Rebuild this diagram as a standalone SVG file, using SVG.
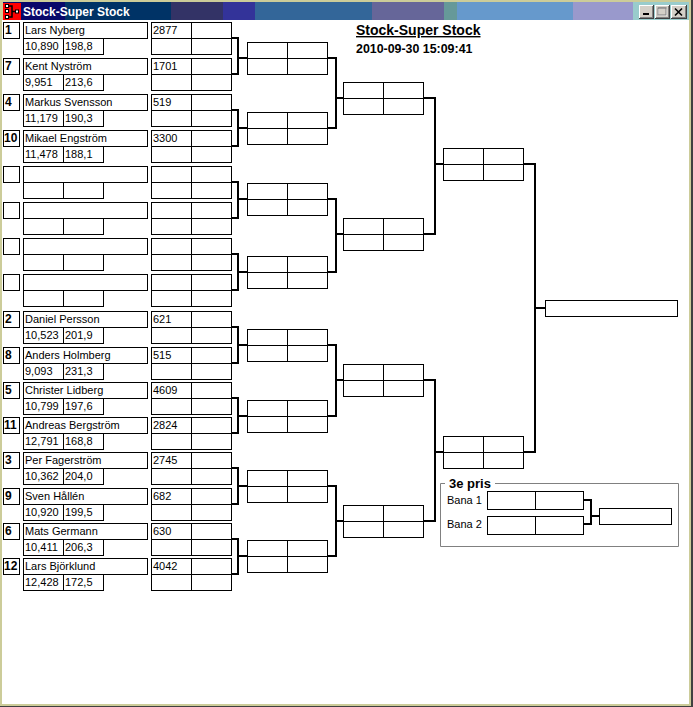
<svg xmlns="http://www.w3.org/2000/svg" xmlns:xlink="http://www.w3.org/1999/xlink" width="693" height="707" viewBox="0 0 693 707">
<style>
.box{fill:#fff;stroke:#000;stroke-width:1}
.ln{fill:none;stroke:#000;stroke-width:1}
.con{fill:none;stroke:#000;stroke-width:2}
.t{font-family:"Liberation Sans",Arial,sans-serif;font-size:11px;fill:#000}
.seed{font-family:"Liberation Sans",Arial,sans-serif;font-size:12px;font-weight:bold;fill:#000}
.title{font-family:"Liberation Sans",Arial,sans-serif;font-size:14px;font-weight:bold;fill:#000;text-decoration:underline}
.date{font-family:"Liberation Sans",Arial,sans-serif;font-size:12.4px;font-weight:bold;fill:#000}
.cap{font-family:"Liberation Sans",Arial,sans-serif;font-size:12px;font-weight:bold;fill:#fff}
.grp{font-family:"Liberation Sans",Arial,sans-serif;font-size:13px;font-weight:bold;fill:#000}
.btn{fill:#d4d0c8}
</style>
<defs>
<g id="seat">
<rect class="box" x="3.5" y="0.5" width="16" height="16"/>
<rect class="box" x="23.5" y="0.5" width="124" height="16"/>
<rect class="box" x="23.5" y="16.5" width="40" height="16"/>
<rect class="box" x="63.5" y="16.5" width="40" height="16"/>
<rect class="box" x="151.5" y="0.5" width="80" height="32"/>
<path class="ln" d="M191.5 0.5V32.5M151.5 16.5H231.5"/>
</g>
<g id="match">
<rect class="box" x="0.5" y="0.5" width="80" height="32"/>
<path class="ln" d="M40.5 0.5V32.5M0.5 16.5H80.5"/>
</g>
<g id="bana">
<rect class="box" x="0.5" y="0.5" width="96" height="18"/>
<path class="ln" d="M48.5 0.5V18.5"/>
</g>
</defs>

<!-- window frame -->
<rect x="0" y="0" width="693" height="707" fill="#404040"/>
<rect x="0" y="0" width="691" height="706" fill="#cccc99"/>
<rect x="2" y="20" width="687" height="684" fill="#fff"/>

<!-- title bar -->
<g id="titlebar">
<rect x="3" y="2" width="62" height="18" fill="#08086a"/>
<rect x="65" y="2" width="106" height="18" fill="#003366"/>
<rect x="171" y="2" width="52" height="18" fill="#333366"/>
<rect x="223" y="2" width="32" height="18" fill="#333399"/>
<rect x="255" y="2" width="117" height="18" fill="#336699"/>
<rect x="372" y="2" width="72" height="18" fill="#666699"/>
<rect x="444" y="2" width="13" height="18" fill="#669999"/>
<rect x="457" y="2" width="116" height="18" fill="#6699cc"/>
<rect x="573" y="2" width="60" height="18" fill="#9999cc"/>
<rect x="633" y="2" width="56" height="18" fill="#99cccc"/>
<rect x="3" y="3" width="18" height="17" fill="#ff0000"/>
<path d="M9 6H12V17H9M12 11.5H16" fill="none" stroke="#000" stroke-width="1.5"/>
<rect x="5.5" y="4.5" width="3" height="3" fill="#fff" stroke="#000"/>
<rect x="5.5" y="9.5" width="3" height="3" fill="#fff" stroke="#000"/>
<rect x="5.5" y="15.5" width="3" height="3" fill="#fff" stroke="#000"/>
<rect x="15.5" y="10" width="3" height="3" fill="#fff" stroke="#000"/>
<text class="cap" x="23" y="16">Stock-Super Stock</text>
<g id="btn-min">
<rect x="639" y="5" width="15" height="14" fill="#404040"/>
<rect x="639" y="5" width="14" height="13" fill="#fff"/>
<rect x="640" y="6" width="13" height="12" fill="#808080"/>
<rect x="640" y="6" width="12" height="11" class="btn"/>
<rect x="643" y="13" width="6" height="2" fill="#000"/>
</g>
<g id="btn-max">
<rect x="655" y="5" width="15" height="14" fill="#404040"/>
<rect x="655" y="5" width="14" height="13" fill="#fff"/>
<rect x="656" y="6" width="13" height="12" fill="#808080"/>
<rect x="656" y="6" width="12" height="11" class="btn"/>
<rect x="658.5" y="8.5" width="8" height="7" fill="none" stroke="#fff"/>
<rect x="658" y="8" width="8" height="7" fill="none" stroke="#808080"/>
<rect x="658" y="7.5" width="8.5" height="1" fill="#808080"/>
</g>
<g id="btn-close">
<rect x="671" y="5" width="16" height="14" fill="#404040"/>
<rect x="671" y="5" width="15" height="13" fill="#fff"/>
<rect x="672" y="6" width="14" height="12" fill="#808080"/>
<rect x="672" y="6" width="13" height="11" class="btn"/>
<path d="M675 8.5L682 15.5M682 8.5L675 15.5" stroke="#000" stroke-width="1.6"/>
</g>
</g>

<text class="title" x="356" y="35">Stock-Super Stock</text>
<text class="date" x="356" y="53">2010-09-30 15:09:41</text>

<!-- connectors -->
<g id="connectors">
<path class="con" d="M231 38H238V74H231M238 58H247"/>
<path class="con" d="M231 110H238V146H231M238 128H247"/>
<path class="con" d="M231 182H238V218H231M238 199H247"/>
<path class="con" d="M231 254H238V290H231M238 272H247"/>
<path class="con" d="M231 327H238V363H231M238 345H247"/>
<path class="con" d="M231 398H238V433H231M238 416H247"/>
<path class="con" d="M231 468H238V504H231M238 486H247"/>
<path class="con" d="M231 539H238V574H231M238 556H247"/>
<path class="con" d="M327 58H336V128H327M336 98H343"/>
<path class="con" d="M327 199H336V272H327M336 234H343"/>
<path class="con" d="M327 345H336V416H327M336 380H343"/>
<path class="con" d="M327 486H336V556H327M336 521H343"/>
<path class="con" d="M423 98H435V234H423M435 164H443"/>
<path class="con" d="M423 380H435V521H423M435 452H443"/>
<path class="con" d="M523 164H535V452H523M535 308H545"/>
<path class="con" d="M583 500H591V524H583M591 516H599"/>
</g>

<!-- round 1 entries -->
<g id="entry-1" transform="translate(0,22)"><use xlink:href="#seat"/><text class="seed" x="5" y="12">1</text><text class="t" x="25" y="12">Lars Nyberg</text><text class="t" x="25" y="28">10,890</text><text class="t" x="65" y="28">198,8</text><text class="t" x="153" y="12">2877</text></g>
<g id="entry-2" transform="translate(0,58)"><use xlink:href="#seat"/><text class="seed" x="5" y="12">7</text><text class="t" x="25" y="12">Kent Nyström</text><text class="t" x="25" y="28">9,951</text><text class="t" x="65" y="28">213,6</text><text class="t" x="153" y="12">1701</text></g>
<g id="entry-3" transform="translate(0,94)"><use xlink:href="#seat"/><text class="seed" x="5" y="12">4</text><text class="t" x="25" y="12">Markus Svensson</text><text class="t" x="25" y="28">11,179</text><text class="t" x="65" y="28">190,3</text><text class="t" x="153" y="12">519</text></g>
<g id="entry-4" transform="translate(0,130)"><use xlink:href="#seat"/><text class="seed" x="4" y="12">10</text><text class="t" x="25" y="12">Mikael Engström</text><text class="t" x="25" y="28">11,478</text><text class="t" x="65" y="28">188,1</text><text class="t" x="153" y="12">3300</text></g>
<g id="entry-5" transform="translate(0,166)"><use xlink:href="#seat"/></g>
<g id="entry-6" transform="translate(0,202)"><use xlink:href="#seat"/></g>
<g id="entry-7" transform="translate(0,238)"><use xlink:href="#seat"/></g>
<g id="entry-8" transform="translate(0,274)"><use xlink:href="#seat"/></g>
<g id="entry-9" transform="translate(0,311)"><use xlink:href="#seat"/><text class="seed" x="5" y="12">2</text><text class="t" x="25" y="12">Daniel Persson</text><text class="t" x="25" y="28">10,523</text><text class="t" x="65" y="28">201,9</text><text class="t" x="153" y="12">621</text></g>
<g id="entry-10" transform="translate(0,347)"><use xlink:href="#seat"/><text class="seed" x="5" y="12">8</text><text class="t" x="25" y="12">Anders Holmberg</text><text class="t" x="25" y="28">9,093</text><text class="t" x="65" y="28">231,3</text><text class="t" x="153" y="12">515</text></g>
<g id="entry-11" transform="translate(0,382)"><use xlink:href="#seat"/><text class="seed" x="5" y="12">5</text><text class="t" x="25" y="12">Christer Lidberg</text><text class="t" x="25" y="28">10,799</text><text class="t" x="65" y="28">197,6</text><text class="t" x="153" y="12">4609</text></g>
<g id="entry-12" transform="translate(0,417)"><use xlink:href="#seat"/><text class="seed" x="4" y="12">11</text><text class="t" x="25" y="12">Andreas Bergström</text><text class="t" x="25" y="28">12,791</text><text class="t" x="65" y="28">168,8</text><text class="t" x="153" y="12">2824</text></g>
<g id="entry-13" transform="translate(0,452)"><use xlink:href="#seat"/><text class="seed" x="5" y="12">3</text><text class="t" x="25" y="12">Per Fagerström</text><text class="t" x="25" y="28">10,362</text><text class="t" x="65" y="28">204,0</text><text class="t" x="153" y="12">2745</text></g>
<g id="entry-14" transform="translate(0,488)"><use xlink:href="#seat"/><text class="seed" x="5" y="12">9</text><text class="t" x="25" y="12">Sven Hållén</text><text class="t" x="25" y="28">10,920</text><text class="t" x="65" y="28">199,5</text><text class="t" x="153" y="12">682</text></g>
<g id="entry-15" transform="translate(0,523)"><use xlink:href="#seat"/><text class="seed" x="5" y="12">6</text><text class="t" x="25" y="12">Mats Germann</text><text class="t" x="25" y="28">10,411</text><text class="t" x="65" y="28">206,3</text><text class="t" x="153" y="12">630</text></g>
<g id="entry-16" transform="translate(0,558)"><use xlink:href="#seat"/><text class="seed" x="4" y="12">12</text><text class="t" x="25" y="12">Lars Björklund</text><text class="t" x="25" y="28">12,428</text><text class="t" x="65" y="28">172,5</text><text class="t" x="153" y="12">4042</text></g>

<!-- round 2 -->
<g id="r2-1" transform="translate(247,42)"><use xlink:href="#match"/></g>
<g id="r2-2" transform="translate(247,112)"><use xlink:href="#match"/></g>
<g id="r2-3" transform="translate(247,183)"><use xlink:href="#match"/></g>
<g id="r2-4" transform="translate(247,256)"><use xlink:href="#match"/></g>
<g id="r2-5" transform="translate(247,329)"><use xlink:href="#match"/></g>
<g id="r2-6" transform="translate(247,400)"><use xlink:href="#match"/></g>
<g id="r2-7" transform="translate(247,470)"><use xlink:href="#match"/></g>
<g id="r2-8" transform="translate(247,540)"><use xlink:href="#match"/></g>

<!-- round 3 -->
<g id="r3-1" transform="translate(343,82)"><use xlink:href="#match"/></g>
<g id="r3-2" transform="translate(343,218)"><use xlink:href="#match"/></g>
<g id="r3-3" transform="translate(343,364)"><use xlink:href="#match"/></g>
<g id="r3-4" transform="translate(343,505)"><use xlink:href="#match"/></g>

<!-- semifinals -->
<g id="r4-1" transform="translate(443,148)"><use xlink:href="#match"/></g>
<g id="r4-2" transform="translate(443,436)"><use xlink:href="#match"/></g>

<!-- final -->
<g id="final"><rect class="box" x="545.5" y="300.5" width="132" height="16"/></g>

<!-- 3rd place -->
<g id="third-place">
<path d="M445 483.5H440.5V546.5H678.5V483.5H495" fill="none" stroke="#808080" stroke-width="1"/>
<text class="grp" x="449" y="488">3e pris</text>
<text class="t" x="447" y="504">Bana 1</text>
<text class="t" x="447" y="528">Bana 2</text>
<g id="bana-1" transform="translate(487,491)"><use xlink:href="#bana"/></g>
<g id="bana-2" transform="translate(487,516)"><use xlink:href="#bana"/></g>
<g id="third-result"><rect class="box" x="599.5" y="508.5" width="72" height="16"/></g>
</g>
</svg>
